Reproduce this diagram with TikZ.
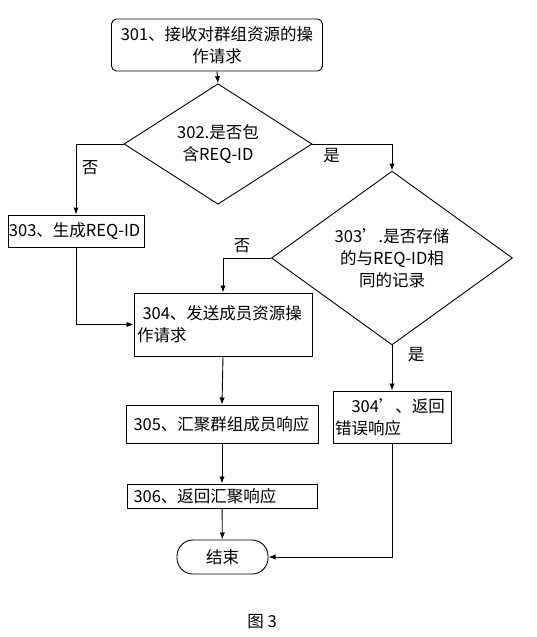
\documentclass[tikz,border=0pt]{standalone}
\usepackage{fontspec}
\setmainfont{Noto Sans CJK SC}
\usetikzlibrary{shapes.geometric,positioning,arrows.meta}

\begin{document}
\begin{tikzpicture}[%
>=Latex,
x=1pt, y=-1pt,
font=\fontsize{16.5}{22}\selectfont,
line width=0.9pt,
box/.style={draw, inner sep=3pt, align=left},
decision/.style={draw, diamond, inner sep=0pt, align=center},
ending/.style={draw, rounded corners=16pt, minimum width=91pt, minimum height=34pt}
]
\useasboundingbox (0,0) rectangle (536,637);

\node[box, rounded corners=5pt, align=center, minimum width=211pt, minimum height=52pt] (n301) at (217,45) {301、接收对群组资源的操\\作请求};
\node[decision, minimum width=188pt, minimum height=94pt] (n302) at (218,144) {302.是否包\\含REQ-ID};
\node[box, text width=134pt, minimum height=32pt, inner sep=1pt] (n303) at (76,231) {303、生成REQ-ID};
\node[decision, minimum width=241pt, minimum height=132pt] (n303b) at (392,258) {303’.是否存储\\的与REQ-ID相\\同的记录};
\node[box, text width=172pt, minimum height=63pt] (n304) at (223,324.5) {\ 304、发送成员资源操\\作请求};
\node[box, text width=114pt, minimum height=52pt, inner sep=2pt] (n304b) at (392,417) {\quad 304’、返回\\错误响应};
\node[box, text width=188pt, minimum height=38pt, inner sep=2pt] (n305) at (222,424) {\ 305、汇聚群组成员响应};
\node[box, text width=188pt, minimum height=24pt, inner sep=1pt] (n306) at (222,496) {\ 306、返回汇聚响应};
\node[ending] (end) at (222.5,557) {结束};
\node (fig) at (262,622) {图 3};

\draw[->] (n301.south) -- (n302.north);
\draw[->] (n302.west) -| (n303.north) node[pos=0.67, right=2pt] {否};
\draw[->] (n302.east) -| (n303b.north) node[pos=0.12, below=1pt] {是};
\draw[->] (n303b.west) -| (n304.north) node[pos=0.3, above=1pt] {否};
\draw[->] (n303b.south) -- (n304b.north) node[pos=0.2, right=12pt] {是};
\draw[->] (n303.south) |- (n304.west);
\draw[->] (n304.south) -- (n305.north);
\draw[->] (n305) -- (n306);
\draw[->] (n306) -- (end);
\draw[->] (n304b.south) |- (end.east);

\end{tikzpicture}
\end{document}
